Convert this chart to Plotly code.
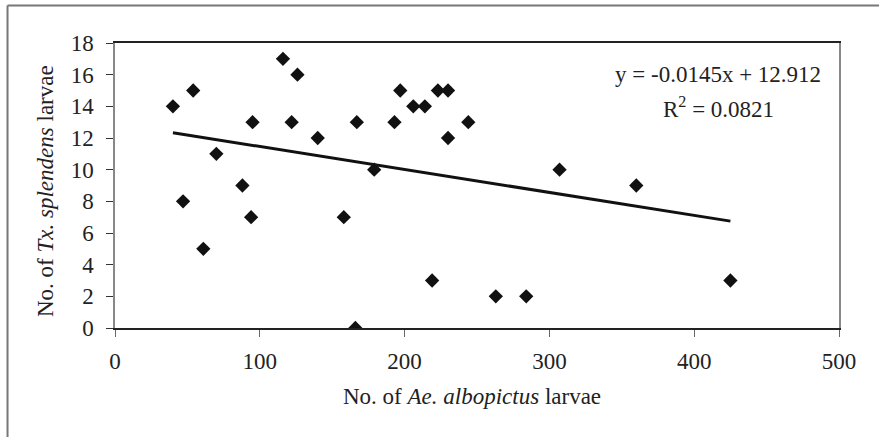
import plotly.graph_objects as go

# Data
ae_albopictus = [40, 54, 47, 61, 70, 88, 94, 95, 116, 126, 122, 140, 158, 167, 166, 179,
                 193, 197, 206, 214, 223, 230, 230, 244, 219, 263, 284, 307, 360, 425]
tx_splendens = [14, 15, 8, 5, 11, 9, 7, 13, 17, 16, 13, 12, 7, 13, 0, 10,
                13, 15, 14, 14, 15, 15, 12, 13, 3, 2, 2, 10, 9, 3]
slope = -0.0145
intercept = 12.912
r_squared = 0.0821
x_ticks = [0, 100, 200, 300, 400, 500]
y_ticks = [0, 2, 4, 6, 8, 10, 12, 14, 16, 18]

W, H = 879, 437
# target plot-area edges in page pixels (body margin removed via post_script)
PL, PR, PT, PB = 114.5, 838.7, 42.7, 328.3
L, T = PL, PT
R, B = W - PR, H - PB
pw, ph = PR - PL, PB - PT

def px_x(p):
    return (p - PL) / pw

def px_y(p):
    return (PB - p) / ph

FONT = "Liberation Serif, Times New Roman, serif"
TXT = "#222222"
FS = 23

fig = go.Figure()
fig.add_trace(go.Scatter(
    x=ae_albopictus, y=tx_splendens, mode="markers",
    marker=dict(symbol="diamond", size=11, color="#111111", line=dict(width=0)),
    showlegend=False, hoverinfo="x+y"))

xs = [min(ae_albopictus), max(ae_albopictus)]
ys = [slope * v + intercept for v in xs]
fig.add_trace(go.Scatter(x=xs, y=ys, mode="lines",
                         line=dict(color="#111111", width=3), showlegend=False))

fig.update_layout(
    width=W, height=H,
    margin=dict(l=L, r=R, t=T, b=B, pad=0),
    paper_bgcolor="white", plot_bgcolor="white",
    font=dict(family=FONT, size=FS, color=TXT),
    xaxis=dict(range=[0, 500], tickvals=x_ticks, ticktext=[str(v) for v in x_ticks],
               showgrid=False, zeroline=False, showline=True, linecolor="#222222",
               linewidth=1.5, mirror=True, ticks="outside", ticklen=7, tickwidth=1,
               tickcolor="#666666", ticklabelstandoff=5, fixedrange=True),
    yaxis=dict(range=[0, 18], tickvals=y_ticks, ticktext=[str(v) for v in y_ticks],
               showgrid=False, zeroline=False, showline=True, linecolor="#888888",
               linewidth=1.5, mirror=True, ticks="outside", ticklen=7, tickwidth=1.2,
               tickcolor="#333333", ticklabelstandoff=8, fixedrange=True),
    annotations=[
        dict(text="No. of <i>Ae. albopictus</i> larvae", xref="paper", yref="paper",
             x=px_x(471.5), y=px_y(397), showarrow=False, xanchor="center", yanchor="middle",
             font=dict(family=FONT, size=FS, color=TXT)),
        dict(text="No. of <i>Tx. splendens</i> larvae", xref="paper", yref="paper",
             x=px_x(45), y=px_y(191.5), showarrow=False, textangle=-90,
             xanchor="center", yanchor="middle",
             font=dict(family=FONT, size=FS, color=TXT)),
        dict(text=f"y = {slope}x + {intercept}", xref="paper", yref="paper",
             x=px_x(718), y=px_y(74), showarrow=False, xanchor="center", yanchor="middle",
             font=dict(family=FONT, size=FS, color=TXT)),
        dict(text=f"R<sup>2</sup> = {r_squared}", xref="paper", yref="paper",
             x=px_x(718.5), y=px_y(107), showarrow=False, xanchor="center", yanchor="middle",
             font=dict(family=FONT, size=FS, color=TXT)),
    ],
    shapes=[
        dict(type="line", xref="paper", yref="paper", x0=px_x(7), x1=px_x(7),
             y0=px_y(5), y1=px_y(460), line=dict(color="#777777", width=2)),
        dict(type="line", xref="paper", yref="paper", x0=px_x(7), x1=px_x(900),
             y0=px_y(5), y1=px_y(5), line=dict(color="#777777", width=2)),
    ],
)

fig.write_html("out.html",
               config={"displayModeBar": False, "staticPlot": False},
               post_script="document.body.style.margin='0';document.body.style.padding='0';")
